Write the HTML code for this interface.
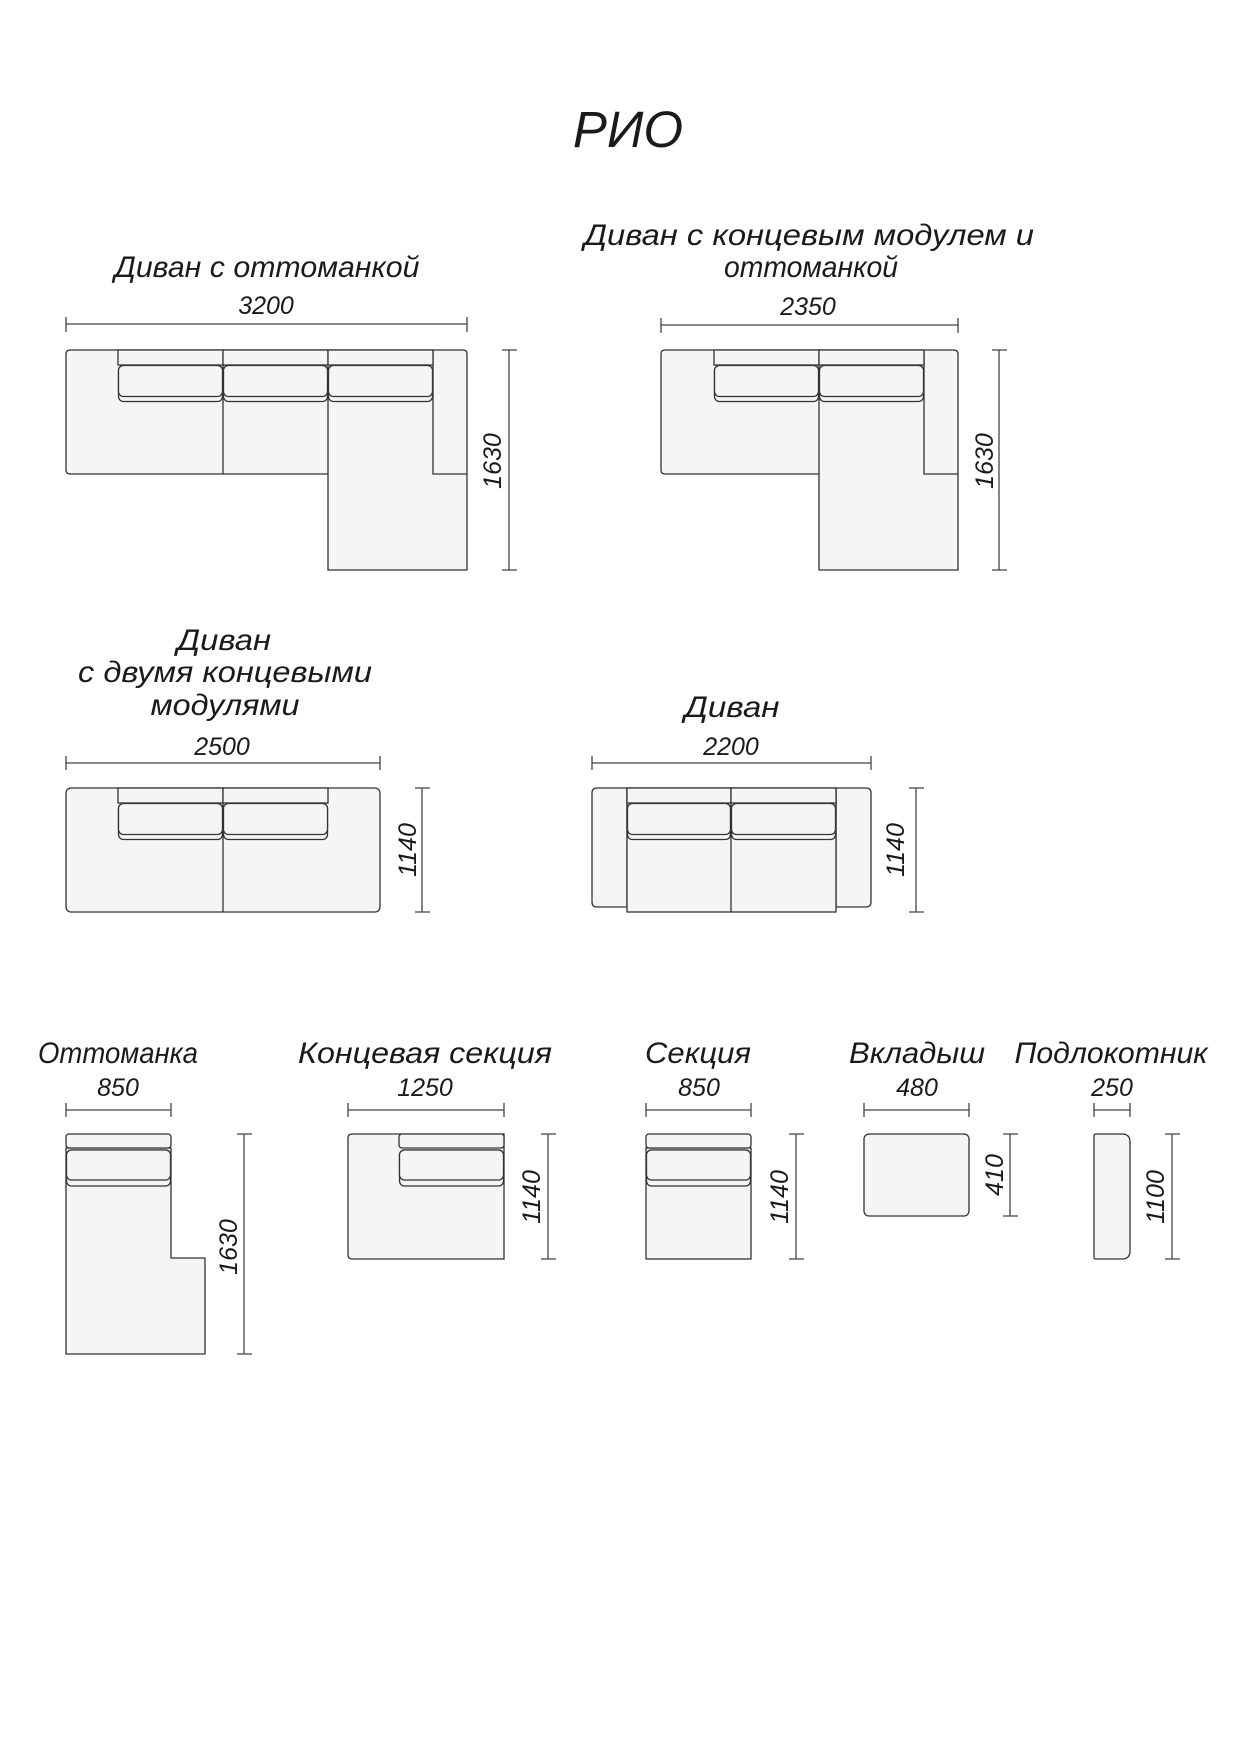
<!DOCTYPE html>
<html><head><meta charset="utf-8"><style>
html,body{margin:0;padding:0;background:#fff}
svg{display:block}
text{font-family:"Liberation Sans",sans-serif;font-style:italic;fill:#1a1a1a}
.t{font-size:30px}
.n{font-size:25px}
.s{fill:#f4f5f4;stroke:#333;stroke-width:1.3}
.l{stroke:#333;stroke-width:1.3;fill:none}
.d{stroke:#444;stroke-width:1.3;fill:none}
</style></head><body>
<svg width="1241" height="1754" viewBox="0 0 1241 1754" xmlns="http://www.w3.org/2000/svg">
<defs>
<g id="cush">
<rect class="s" x="0" y="0" width="105" height="15"/>
<rect class="s" x="0.5" y="15.5" width="104" height="36" rx="5"/>
<rect class="s" x="0.5" y="15.5" width="104" height="31" rx="5"/>
</g>
</defs>
<text x="628" y="147" text-anchor="middle" style="font-size:51px">РИО</text>

<!-- Sofa 1 -->
<text class="t" x="267" y="277" text-anchor="middle" textLength="305" lengthAdjust="spacingAndGlyphs">Диван с оттоманкой</text>
<text class="n" x="266" y="314" text-anchor="middle">3200</text>
<path class="d" d="M66,324H467M66,317V332M467,317V332"/>
<path class="s" d="M70,350H463Q467,350 467,354V570H328V474H70Q66,474 66,470V354Q66,350 70,350Z"/>
<path class="l" d="M433,350V474H467M223,350V474M328,365V474"/>
<use href="#cush" x="118" y="350"/><use href="#cush" x="223" y="350"/><use href="#cush" x="328" y="350"/>
<path class="d" d="M509,350V570M502,350H517M502,570H517"/>
<text class="n" x="493" y="461" text-anchor="middle" dominant-baseline="central" transform="rotate(-90 493 461)">1630</text>

<!-- Sofa 2 -->
<text class="t" x="809" y="245" text-anchor="middle" textLength="450" lengthAdjust="spacingAndGlyphs">Диван с концевым модулем и</text>
<text class="t" x="811" y="277" text-anchor="middle" textLength="174" lengthAdjust="spacingAndGlyphs">оттоманкой</text>
<text class="n" x="808" y="315" text-anchor="middle">2350</text>
<path class="d" d="M661,325H958M661,318V333M958,318V333"/>
<path class="s" d="M665,350H954Q958,350 958,354V570H819V474H665Q661,474 661,470V354Q661,350 665,350Z"/>
<path class="l" d="M924,350V474H958M819,365V474"/>
<use href="#cush" x="714" y="350"/><use href="#cush" x="819" y="350"/>
<path class="d" d="M999,350V570M992,350H1007M992,570H1007"/>
<text class="n" x="985" y="461" text-anchor="middle" dominant-baseline="central" transform="rotate(-90 985 461)">1630</text>

<!-- Sofa 3 -->
<text class="t" x="224" y="650" text-anchor="middle" textLength="94" lengthAdjust="spacingAndGlyphs">Диван</text>
<text class="t" x="225" y="682" text-anchor="middle" textLength="294" lengthAdjust="spacingAndGlyphs">с двумя концевыми</text>
<text class="t" x="225" y="715" text-anchor="middle" textLength="149" lengthAdjust="spacingAndGlyphs">модулями</text>
<text class="n" x="222" y="755" text-anchor="middle">2500</text>
<path class="d" d="M66,763H380M66,756V770M380,756V770"/>
<rect class="s" x="66" y="788" width="314" height="124" rx="5"/>
<path class="l" d="M223,788V912"/>
<use href="#cush" x="118" y="788"/><use href="#cush" x="223" y="788"/>
<path class="d" d="M422,788V912M415,788H430M415,912H430"/>
<text class="n" x="408" y="850" text-anchor="middle" dominant-baseline="central" transform="rotate(-90 408 850)">1140</text>

<!-- Sofa 4 -->
<text class="t" x="732" y="717" text-anchor="middle" textLength="95" lengthAdjust="spacingAndGlyphs">Диван</text>
<text class="n" x="731" y="755" text-anchor="middle">2200</text>
<path class="d" d="M592,763H871M592,756V770M871,756V770"/>
<path class="s" d="M597,788H627V907H597Q592,907 592,902V793Q592,788 597,788Z"/>
<path class="s" d="M836,788H866Q871,788 871,793V902Q871,907 866,907H836Z"/>
<rect class="s" x="627" y="788" width="209" height="124"/>
<path class="l" d="M731,788V912"/>
<use href="#cush" x="627" y="788" transform="translate(627 788) scale(0.99 1) translate(-627 -788)"/>
<use href="#cush" x="731" y="788"/>
<path class="d" d="M916,788V912M909,788H924M909,912H924"/>
<text class="n" x="896" y="850" text-anchor="middle" dominant-baseline="central" transform="rotate(-90 896 850)">1140</text>

<!-- Ottoman -->
<text class="t" x="118" y="1063" text-anchor="middle" textLength="160" lengthAdjust="spacingAndGlyphs">Оттоманка</text>
<text class="n" x="118" y="1096" text-anchor="middle">850</text>
<path class="d" d="M66,1110H171M66,1103V1117M171,1103V1117"/>
<path class="s" d="M66,1148V1354H205V1258H171V1148Z"/>
<rect class="s" x="66" y="1134" width="105" height="14" rx="3"/>
<rect class="s" x="66.5" y="1150" width="104" height="36" rx="5"/>
<rect class="s" x="66.5" y="1150" width="104" height="30" rx="5"/>
<path class="d" d="M244,1134V1354M237,1134H252M237,1354H252"/>
<text class="n" x="229" y="1247" text-anchor="middle" dominant-baseline="central" transform="rotate(-90 229 1247)">1630</text>

<!-- End section -->
<text class="t" x="425" y="1063" text-anchor="middle" textLength="254" lengthAdjust="spacingAndGlyphs">Концевая секция</text>
<text class="n" x="425" y="1096" text-anchor="middle">1250</text>
<path class="d" d="M348,1110H504M348,1103V1117M504,1103V1117"/>
<path class="s" d="M352,1134H504V1259H352Q348,1259 348,1255V1138Q348,1134 352,1134Z"/>
<rect class="s" x="399" y="1134" width="105" height="14" rx="3"/>
<rect class="s" x="399.5" y="1150" width="104" height="36" rx="5"/>
<rect class="s" x="399.5" y="1150" width="104" height="30" rx="5"/>
<path class="d" d="M548,1134V1259M541,1134H556M541,1259H556"/>
<text class="n" x="532" y="1197" text-anchor="middle" dominant-baseline="central" transform="rotate(-90 532 1197)">1140</text>

<!-- Section -->
<text class="t" x="698" y="1063" text-anchor="middle" textLength="106" lengthAdjust="spacingAndGlyphs">Секция</text>
<text class="n" x="699" y="1096" text-anchor="middle">850</text>
<path class="d" d="M646,1110H751M646,1103V1117M751,1103V1117"/>
<rect class="s" x="646" y="1148" width="105" height="111"/>
<rect class="s" x="646" y="1134" width="105" height="14" rx="3"/>
<rect class="s" x="646.5" y="1150" width="104" height="36" rx="5"/>
<rect class="s" x="646.5" y="1150" width="104" height="30" rx="5"/>
<path class="d" d="M796,1134V1259M789,1134H804M789,1259H804"/>
<text class="n" x="780" y="1197" text-anchor="middle" dominant-baseline="central" transform="rotate(-90 780 1197)">1140</text>

<!-- Insert -->
<text class="t" x="917" y="1063" text-anchor="middle" textLength="136" lengthAdjust="spacingAndGlyphs">Вкладыш</text>
<text class="n" x="917" y="1096" text-anchor="middle">480</text>
<path class="d" d="M864,1110H969M864,1103V1117M969,1103V1117"/>
<rect class="s" x="864" y="1134" width="105" height="82" rx="5"/>
<path class="d" d="M1010,1134V1216M1003,1134H1018M1003,1216H1018"/>
<text class="n" x="995" y="1175" text-anchor="middle" dominant-baseline="central" transform="rotate(-90 995 1175)">410</text>

<!-- Armrest -->
<text class="t" x="1111" y="1063" text-anchor="middle" textLength="193" lengthAdjust="spacingAndGlyphs">Подлокотник</text>
<text class="n" x="1112" y="1096" text-anchor="middle">250</text>
<path class="d" d="M1094,1110H1130M1094,1103V1117M1130,1103V1117"/>
<path class="s" d="M1096,1134H1122Q1130,1134 1130,1142V1251Q1130,1259 1122,1259H1096Q1094,1259 1094,1257V1136Q1094,1134 1096,1134Z"/>
<path class="d" d="M1172,1134V1259M1165,1134H1180M1165,1259H1180"/>
<text class="n" x="1156" y="1197" text-anchor="middle" dominant-baseline="central" transform="rotate(-90 1156 1197)">1100</text>
</svg>
</body></html>
